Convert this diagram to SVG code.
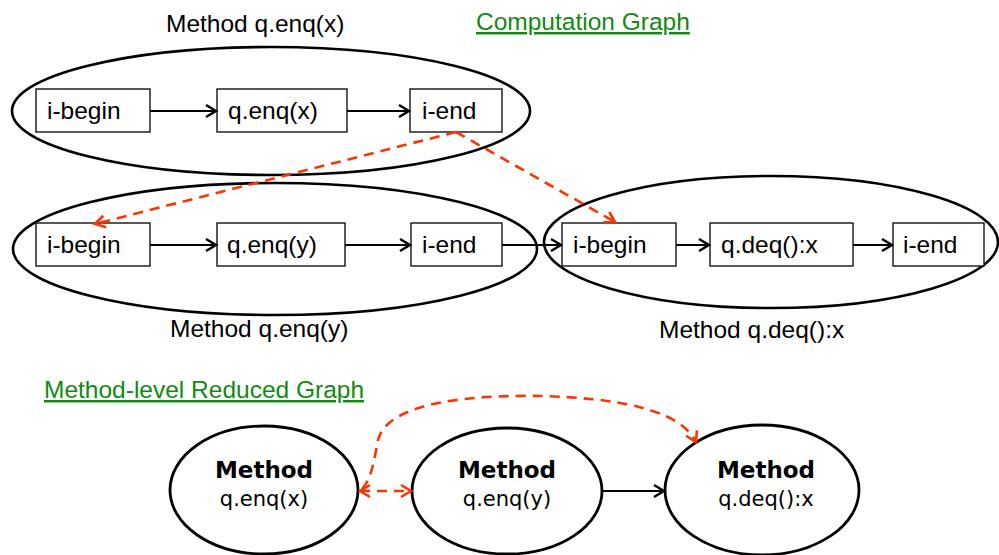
<svg xmlns="http://www.w3.org/2000/svg" width="999" height="555" viewBox="0 0 999 555">
<style>
.lbl{font-family:"Liberation Sans",Arial,sans-serif;font-size:24.5px;fill:#000}
.box{fill:#fff;stroke:#000;stroke-width:1.3}
.grp{fill:none;stroke:#000;stroke-width:2.6}
.ttl{font-family:"Liberation Sans",Arial,sans-serif;font-size:24.5px;fill:#118a11;text-decoration:underline}
.arr{fill:none;stroke:#000;stroke-width:2.2}
.red{fill:none;stroke:#ff3300;stroke-width:2.6;stroke-dasharray:10 7}
.node{fill:#fff;stroke:#000;stroke-width:2.8}
.mb{font-family:"Comic Sans MS","DejaVu Sans",sans-serif;font-size:23px;font-weight:bold;fill:#000;text-anchor:middle}
.mt{font-family:"Comic Sans MS","DejaVu Sans",sans-serif;font-size:21px;fill:#000;text-anchor:middle}
</style>
<defs>
<marker id="ah" markerUnits="userSpaceOnUse" markerWidth="16" markerHeight="16" refX="12" refY="7" orient="auto" viewBox="0 0 16 14">
<path d="M2,1 L12,7 L2,13" fill="none" stroke="#000" stroke-width="2.4"/>
</marker>
<marker id="rh" markerUnits="userSpaceOnUse" markerWidth="16" markerHeight="16" refX="12" refY="7" orient="auto" viewBox="0 0 16 14">
<path d="M2,1 L12,7 L2,13" fill="none" stroke="#ff3300" stroke-width="2.6"/>
</marker>
<marker id="rs" markerUnits="userSpaceOnUse" markerWidth="16" markerHeight="16" refX="4" refY="7" orient="auto" viewBox="0 0 16 14">
<path d="M14,1 L4,7 L14,13" fill="none" stroke="#ff3300" stroke-width="2.6"/>
</marker>
</defs>
<rect width="999" height="555" fill="#fff"/>

<text class="lbl" x="166" y="32">Method q.enq(x)</text>
<text class="ttl" x="476" y="30">Computation Graph</text>
<text class="lbl" x="170" y="337">Method q.enq(y)</text>
<text class="lbl" x="659" y="338">Method q.deq():x</text>
<text class="ttl" x="44" y="398">Method-level Reduced Graph</text>

<g id="grp-enqx"><ellipse class="grp" cx="271" cy="111" rx="259" ry="64"/></g>
<g id="grp-enqy"><ellipse class="grp" cx="275" cy="249" rx="262" ry="66"/></g>
<g id="grp-deq"><ellipse class="grp" cx="771" cy="242" rx="227" ry="66"/></g>

<g id="n1-begin"><rect class="box" x="36" y="89" width="114" height="43"/><text class="lbl" x="47" y="119">i-begin</text></g>
<g id="n1-enq"><rect class="box" x="217" y="89" width="130" height="43"/><text class="lbl" x="228" y="119">q.enq(x)</text></g>
<g id="n1-end"><rect class="box" x="410" y="89" width="92" height="43"/><text class="lbl" x="422" y="119">i-end</text></g>

<g id="n2-begin"><rect class="box" x="36" y="223" width="114" height="43"/><text class="lbl" x="47" y="253">i-begin</text></g>
<g id="n2-enq"><rect class="box" x="217" y="223" width="128" height="43"/><text class="lbl" x="227" y="253">q.enq(y)</text></g>
<g id="n2-end"><rect class="box" x="411" y="223" width="91" height="43"/><text class="lbl" x="422" y="253">i-end</text></g>

<g id="n3-begin"><rect class="box" x="562" y="223" width="114" height="43"/><text class="lbl" x="573" y="253">i-begin</text></g>
<g id="n3-deq"><rect class="box" x="710" y="223" width="143" height="43"/><text class="lbl" x="721" y="253">q.deq():x</text></g>
<g id="n3-end"><rect class="box" x="893" y="223" width="91" height="43"/><text class="lbl" x="903" y="253">i-end</text></g>

<g id="m-enqx"><ellipse class="node" cx="264" cy="490" rx="94" ry="64"/><text class="mb" x="264" y="478">Method</text><text class="mt" x="264" y="506">q.enq(x)</text></g>
<g id="m-enqy"><ellipse class="node" cx="507" cy="491" rx="95" ry="63"/><text class="mb" x="507" y="478">Method</text><text class="mt" x="507" y="506">q.enq(y)</text></g>
<g id="m-deq"><ellipse class="node" cx="762" cy="490" rx="97" ry="65"/><text class="mb" x="766" y="478">Method</text><text class="mt" x="766" y="506">q.deq():x</text></g>

<g id="connectors">
<line class="arr" x1="150" y1="111" x2="216" y2="111" marker-end="url(#ah)"/>
<line class="arr" x1="347" y1="111" x2="409" y2="111" marker-end="url(#ah)"/>
<line class="arr" x1="150" y1="245" x2="216" y2="245" marker-end="url(#ah)"/>
<line class="arr" x1="345" y1="245" x2="410" y2="245" marker-end="url(#ah)"/>
<line class="arr" x1="502" y1="245" x2="561" y2="245" marker-end="url(#ah)"/>
<line class="arr" x1="676" y1="245" x2="709" y2="245" marker-end="url(#ah)"/>
<line class="arr" x1="853" y1="245" x2="892" y2="245" marker-end="url(#ah)"/>
<line class="arr" x1="602" y1="491" x2="664" y2="491" marker-end="url(#ah)"/>
<line class="red" x1="456" y1="132" x2="95" y2="224" marker-end="url(#rh)"/>
<line class="red" x1="456" y1="132" x2="615" y2="222" marker-end="url(#rh)"/>
<line class="red" x1="360" y1="491" x2="411" y2="491" marker-start="url(#rs)" marker-end="url(#rh)"/>
<path class="red" d="M362,489 C372,478 374,460 378,440 C388,400 480,395 540,396 C620,398 680,410 696,442" marker-end="url(#rh)"/>
</g>
</svg>
